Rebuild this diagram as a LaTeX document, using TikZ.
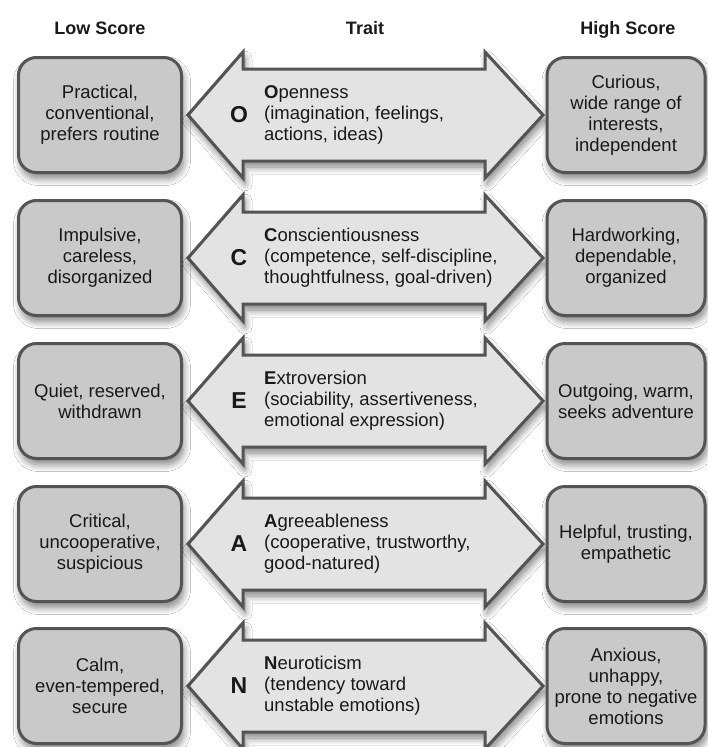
\documentclass[tikz,border=0pt]{standalone}
\usepackage{fontspec}
\setmainfont{Liberation Sans}
\usetikzlibrary{shadows.blur}

\definecolor{edge}{gray}{0.33}
\definecolor{boxfill}{gray}{0.79}
\definecolor{arrowfill}{gray}{0.89}
\definecolor{ink}{gray}{0.1}

\tikzset{
  softshadow/.style={blur shadow={shadow xshift=2pt, shadow yshift=-6pt,
      shadow blur radius=7pt, shadow blur steps=10, shadow opacity=50}},
  scorebox/.style={draw=edge, line width=3pt, fill=boxfill, rounded corners=18pt,
      minimum height=115pt, inner sep=0pt, align=center, text=ink,
      font=\fontsize{18.5}{21}\selectfont, softshadow},
  lowbox/.style={scorebox, minimum width=163pt},
  highbox/.style={scorebox, minimum width=158pt},
  traitarrow/.style={draw=edge, line width=3pt, fill=arrowfill, line join=miter, softshadow},
  bigletter/.style={inner sep=0pt, text=ink, font=\fontsize{23}{23}\selectfont\bfseries},
  traittext/.style={anchor=west, inner sep=0pt, align=left, text=ink,
      font=\fontsize{18.5}{21}\selectfont},
  header/.style={anchor=base, inner sep=0pt, text=ink, font=\fontsize{18}{18}\selectfont\bfseries}
}

% #1 row centre, #2 row id, #3 letter, #4 trait text, #5 low-score text, #6 high-score text
\newcommand\traitrow[6]{%
  \path[traitarrow] (188,#1) -- (243,#1-63) -- (243,#1-46) -- (485,#1-46)
      -- (485,#1-63) -- (543,#1) -- (485,#1+63) -- (485,#1+46)
      -- (243,#1+46) -- (243,#1+63) -- cycle;
  \node[bigletter] (letter#2) at (239,#1) {#3};
  \node[traittext] (trait#2) at (264,#1) {#4};
  \node[lowbox] (low#2) at (100,#1) {#5};
  \node[highbox] (high#2) at (626,#1) {#6};
}

\begin{document}
\begin{tikzpicture}[x=1pt, y=-1pt]
  \useasboundingbox[fill=white] (0,0) rectangle (707,747);

  \node[header] (hlow)   at (100,34.5) {Low Score};
  \node[header] (htrait) at (365,34.5) {Trait};
  \node[header] (hhigh)  at (628,34.5) {High Score};

  \traitrow{115}{o}{O}{\textbf{O}penness\\(imagination, feelings,\\actions, ideas)}
    {Practical,\\conventional,\\prefers routine}
    {Curious,\\wide range of\\interests,\\independent}
  \traitrow{258}{c}{C}{\textbf{C}onscientiousness\\(competence, self-discipline,\\thoughtfulness, goal-driven)}
    {Impulsive,\\careless,\\disorganized}
    {Hardworking,\\dependable,\\organized}
  \traitrow{401}{e}{E}{\textbf{E}xtroversion\\(sociability, assertiveness,\\emotional expression)}
    {Quiet, reserved,\\withdrawn}
    {Outgoing, warm,\\seeks adventure}
  \traitrow{544}{a}{A}{\textbf{A}greeableness\\(cooperative, trustworthy,\\good-natured)}
    {Critical,\\uncooperative,\\suspicious}
    {Helpful, trusting,\\empathetic}
  \traitrow{686}{n}{N}{\textbf{N}euroticism\\(tendency toward\\unstable emotions)}
    {Calm,\\even-tempered,\\secure}
    {Anxious,\\unhappy,\\prone to negative\\emotions}
\end{tikzpicture}
\end{document}
